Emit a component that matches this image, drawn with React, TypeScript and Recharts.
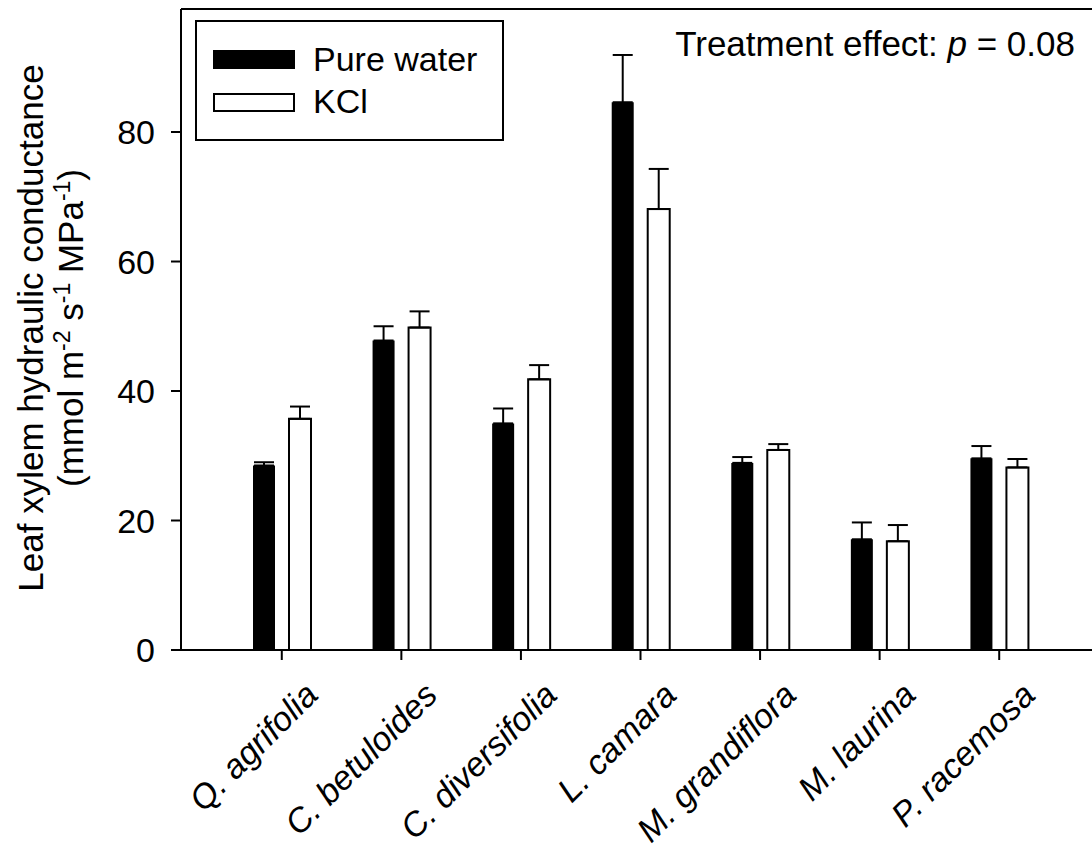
import {
  BarChart,
  Bar,
  XAxis,
  YAxis,
  ErrorBar,
  Legend,
  Label,
  ReferenceLine,
} from 'recharts'

const species = [
  'Q. agrifolia',
  'C. betuloides',
  'C. diversifolia',
  'L. camara',
  'M. grandiflora',
  'M. laurina',
  'P. racemosa',
]
const pureWater = [28.5, 47.8, 35.0, 84.6, 28.9, 17.1, 29.6]
const pureWaterSe = [0.5, 2.2, 2.3, 7.3, 0.9, 2.6, 1.9]
const kcl = [35.7, 49.8, 41.8, 68.1, 30.9, 16.8, 28.2]
const kclSe = [1.9, 2.5, 2.2, 6.2, 0.9, 2.5, 1.3]
const yTicks = [0, 20, 40, 60, 80]
const seriesNames = ['Pure water', 'KCl']

const data = species.map((name, i) => ({
  name,
  pure: pureWater[i],
  pureErr: [0, pureWaterSe[i]],
  kcl: kcl[i],
  kclErr: [0, kclSe[i]],
}))

const FONT = '"Liberation Sans", Arial, Helvetica, sans-serif'

// eslint-disable-next-line @typescript-eslint/no-explicit-any
function SpeciesTick({ x, y, payload }: any) {
  const ax = x + 38
  const ay = y + 35
  return (
    <text
      x={ax}
      y={ay}
      transform={`rotate(-45 ${ax} ${ay})`}
      textAnchor="end"
      fontSize={34}
      fontStyle="italic"
      fontFamily={FONT}
      fill="#000"
    >
      {payload.value}
    </text>
  )
}

function YTitle() {
  const cy = 328
  return (
    <g fontFamily={FONT} fontSize={35} fill="#000">
      <text x={43} y={cy} transform={`rotate(-90 43 ${cy})`} textAnchor="middle">
        Leaf xylem hydraulic conductance
      </text>
      <text x={83} y={cy} transform={`rotate(-90 83 ${cy})`} textAnchor="middle">
        (mmol m
        <tspan dy={-13} fontSize={23}>-2</tspan>
        <tspan dy={13}> s</tspan>
        <tspan dy={-13} fontSize={23}>-1</tspan>
        <tspan dy={13}> MPa</tspan>
        <tspan dy={-13} fontSize={23}>-1</tspan>
        <tspan dy={13}>)</tspan>
      </text>
    </g>
  )
}

function TreatmentNote() {
  return (
    <text x={1075} y={56} textAnchor="end" fontFamily={FONT} fontSize={35} fill="#000">
      Treatment effect: <tspan fontStyle="italic">p</tspan> = 0.08
    </text>
  )
}

function LegendBox() {
  return (
    <div
      style={{
        position: 'relative',
        boxSizing: 'border-box',
        width: 309,
        height: 121,
        border: '2px solid #000',
        background: '#fff',
        fontFamily: FONT,
        fontSize: 34,
        lineHeight: '34px',
        color: '#000',
      }}
    >
      <div style={{ position: 'absolute', left: 16, top: 28, width: 82, height: 19, background: '#000' }} />
      <div
        style={{
          position: 'absolute',
          left: 16,
          top: 71,
          width: 82,
          height: 19,
          boxSizing: 'border-box',
          border: '2px solid #000',
          background: '#fff',
        }}
      />
      <div style={{ position: 'absolute', left: 116, top: 20, whiteSpace: 'nowrap' }}>{seriesNames[0]}</div>
      <div style={{ position: 'absolute', left: 116, top: 62, whiteSpace: 'nowrap' }}>{seriesNames[1]}</div>
    </div>
  )
}

export default function App() {
  return (
    <div
      style={{
        position: 'absolute',
        left: 0,
        top: 0,
        width: 1092,
        height: 850,
        overflow: 'hidden',
        background: '#fff',
      }}
    >
      <BarChart
        width={1120}
        height={850}
        data={data}
        margin={{ top: 9, right: 20, left: 0, bottom: 0 }}
        barSize={22}
        barGap={14}
      >
        <XAxis
          dataKey="name"
          height={200}
          padding={{ left: 41, right: 41 }}
          tickSize={10}
          axisLine={{ stroke: '#000', strokeWidth: 2 }}
          tickLine={{ stroke: '#000', strokeWidth: 2 }}
          tick={<SpeciesTick />}
          interval={0}
        />
        <YAxis
          domain={[0, 99]}
          ticks={yTicks}
          width={181}
          tickSize={10}
          tickMargin={16}
          allowDataOverflow
          axisLine={{ stroke: '#000', strokeWidth: 2 }}
          tickLine={{ stroke: '#000', strokeWidth: 2 }}
          tick={{ fill: '#000', fontSize: 34, fontFamily: FONT }}
        >
          <Label content={<YTitle />} />
        </YAxis>
        <ReferenceLine y={99} stroke="#000" strokeWidth={2} label={<TreatmentNote />} />
        <Legend
          layout="horizontal"
          verticalAlign="middle"
          align="center"
          content={<LegendBox />}
          wrapperStyle={{ position: 'absolute', left: 195, top: 20, width: 309, height: 121 }}
        />
        <Bar dataKey="pure" name={seriesNames[0]} fill="#000" isAnimationActive={false}>
          <ErrorBar dataKey="pureErr" width={10} stroke="#000" strokeWidth={2} direction="y" />
        </Bar>
        <Bar
          dataKey="kcl"
          name={seriesNames[1]}
          fill="#fff"
          stroke="#000"
          strokeWidth={2}
          isAnimationActive={false}
        >
          <ErrorBar dataKey="kclErr" width={10} stroke="#000" strokeWidth={2} direction="y" />
        </Bar>
      </BarChart>
    </div>
  )
}
